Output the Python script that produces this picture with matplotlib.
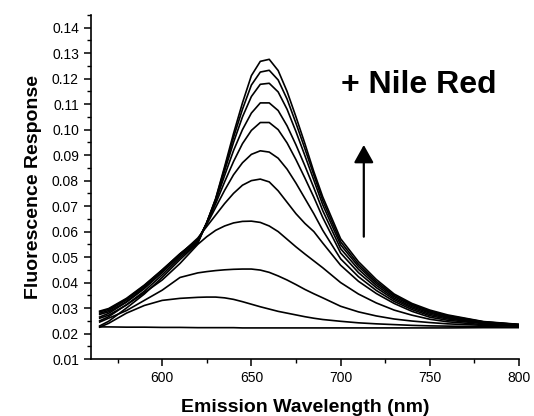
import matplotlib
matplotlib.use("Agg")
import matplotlib.pyplot as plt
from matplotlib.ticker import MultipleLocator, FormatStrFormatter

plt.rcParams['font.family'] = ['Liberation Sans', 'DejaVu Sans']

# emission wavelength grid (nm)
wl = [565, 570, 580, 590, 600, 610, 620, 625, 630, 635, 640, 645, 650, 655, 660,
      665, 670, 675, 680, 685, 690, 700, 710, 720, 730, 740, 750, 760, 780, 800]

# fluorescence response, one list per Nile Red addition (highest peak first)
c1 = [0.0230, 0.0248, 0.0300, 0.0355, 0.0420, 0.0490, 0.0555, 0.0635, 0.0730, 0.0855, 0.0985, 0.1105, 0.1212, 0.1268, 0.1276,
      0.1232, 0.1150, 0.1050, 0.0945, 0.0835, 0.0736, 0.0572, 0.0482, 0.0412, 0.0355, 0.0318, 0.0292, 0.0273, 0.0247, 0.0236]
c2 = [0.0250, 0.0266, 0.0313, 0.0366, 0.0430, 0.0498, 0.0557, 0.0635, 0.0728, 0.0848, 0.0970, 0.1080, 0.1175, 0.1226, 0.1233,
      0.1195, 0.1120, 0.1025, 0.0925, 0.0822, 0.0722, 0.0560, 0.0472, 0.0404, 0.0350, 0.0314, 0.0288, 0.0270, 0.0246, 0.0235]
c3 = [0.0265, 0.0279, 0.0323, 0.0376, 0.0440, 0.0505, 0.0560, 0.0635, 0.0725, 0.0838, 0.0950, 0.1050, 0.1130, 0.1178, 0.1182,
      0.1148, 0.1080, 0.0992, 0.0898, 0.0802, 0.0705, 0.0548, 0.0463, 0.0397, 0.0345, 0.0310, 0.0284, 0.0267, 0.0245, 0.0235]
c4 = [0.0280, 0.0290, 0.0332, 0.0385, 0.0448, 0.0510, 0.0563, 0.0635, 0.0720, 0.0820, 0.0918, 0.1000, 0.1065, 0.1105, 0.1105,
      0.1075, 0.1015, 0.0940, 0.0858, 0.0772, 0.0682, 0.0533, 0.0452, 0.0389, 0.0339, 0.0305, 0.0280, 0.0264, 0.0244, 0.0234]
c5 = [0.0288, 0.0298, 0.0338, 0.0390, 0.0450, 0.0513, 0.0566, 0.0632, 0.0710, 0.0795, 0.0875, 0.0945, 0.0997, 0.1028, 0.1028,
      0.1000, 0.0948, 0.0882, 0.0810, 0.0735, 0.0655, 0.0516, 0.0439, 0.0380, 0.0333, 0.0300, 0.0275, 0.0261, 0.0243, 0.0234]
c6 = [0.0285, 0.0295, 0.0335, 0.0388, 0.0448, 0.0513, 0.0570, 0.0628, 0.0695, 0.0762, 0.0823, 0.0870, 0.0903, 0.0917, 0.0912,
      0.0888, 0.0845, 0.0790, 0.0730, 0.0670, 0.0605, 0.0493, 0.0423, 0.0369, 0.0326, 0.0294, 0.0270, 0.0257, 0.0241, 0.0233]
c7 = [0.0275, 0.0285, 0.0325, 0.0380, 0.0440, 0.0510, 0.0575, 0.0620, 0.0665, 0.0710, 0.0750, 0.0782, 0.0800, 0.0806, 0.0795,
      0.0760, 0.0715, 0.0670, 0.0632, 0.0600, 0.0555, 0.0468, 0.0405, 0.0357, 0.0318, 0.0287, 0.0264, 0.0252, 0.0239, 0.0232]
c8 = [0.0260, 0.0272, 0.0312, 0.0360, 0.0410, 0.0475, 0.0550, 0.0580, 0.0605, 0.0622, 0.0634, 0.0640, 0.0641, 0.0636, 0.0622,
      0.0600, 0.0570, 0.0540, 0.0512, 0.0485, 0.0458, 0.0400, 0.0355, 0.0320, 0.0292, 0.0272, 0.0256, 0.0246, 0.0235, 0.0230]
c9 = [0.0245, 0.0260, 0.0290, 0.0330, 0.0370, 0.0420, 0.0438, 0.0443, 0.0447, 0.0450, 0.0452, 0.0453, 0.0453, 0.0449, 0.0440,
      0.0426, 0.0410, 0.0392, 0.0373, 0.0356, 0.0340, 0.0307, 0.0285, 0.0269, 0.0257, 0.0249, 0.0243, 0.0238, 0.0232, 0.0229]
c10 = [0.0225, 0.0240, 0.0280, 0.0310, 0.0330, 0.0338, 0.0342, 0.0343, 0.0343, 0.0340, 0.0334, 0.0325, 0.0315, 0.0305, 0.0296,
       0.0287, 0.0280, 0.0273, 0.0266, 0.0260, 0.0255, 0.0248, 0.0242, 0.0238, 0.0235, 0.0232, 0.0230, 0.0229, 0.0227, 0.0225]
c11 = [0.0226, 0.0226, 0.0225, 0.0225, 0.0224, 0.0224, 0.0223, 0.0223, 0.0223, 0.0223, 0.0223, 0.0222, 0.0222, 0.0222, 0.0222,
       0.0222, 0.0222, 0.0222, 0.0222, 0.0222, 0.0222, 0.0222, 0.0222, 0.0222, 0.0222, 0.0222, 0.0222, 0.0222, 0.0223, 0.0223]

spectra = [c1, c2, c3, c4, c5, c6, c7, c8, c9, c10, c11]

fig = plt.figure(figsize=(5.34, 4.16), dpi=100)
ax = fig.add_axes([0.170, 0.137, 0.802, 0.827])

for s in spectra:
    ax.plot(wl, s, color='black', lw=1.2)

ax.set_xlim(560, 800)
ax.set_ylim(0.01, 0.145)

ax.spines['top'].set_visible(False)
ax.spines['right'].set_visible(False)
ax.spines['left'].set_linewidth(1.2)
ax.spines['bottom'].set_linewidth(1.2)

ax.xaxis.set_major_locator(MultipleLocator(50))
ax.xaxis.set_minor_locator(MultipleLocator(25))
ax.yaxis.set_major_locator(MultipleLocator(0.01))
ax.yaxis.set_minor_locator(MultipleLocator(0.005))
ax.yaxis.set_major_formatter(FormatStrFormatter('%.2f'))
ax.tick_params(which='major', direction='out', length=5, width=1.1, labelsize=10)
ax.tick_params(which='minor', direction='out', length=3, width=1.0)

ax.set_xlabel('Emission Wavelength (nm)', fontsize=14, fontweight='bold', labelpad=10)
ax.set_ylabel('Fluorescence Response', fontsize=14, fontweight='bold', labelpad=7)

ax.text(700.5, 0.1143, '+ Nile Red', fontsize=23, fontweight='bold', ha='left', va='baseline')
ax.annotate('', xy=(713, 0.094), xytext=(713, 0.058),
            arrowprops=dict(arrowstyle='-|>,head_length=0.9,head_width=0.5', mutation_scale=12,
                            color='black', lw=1.6, shrinkA=0, shrinkB=0))

fig.savefig('out.png', dpi=100)
